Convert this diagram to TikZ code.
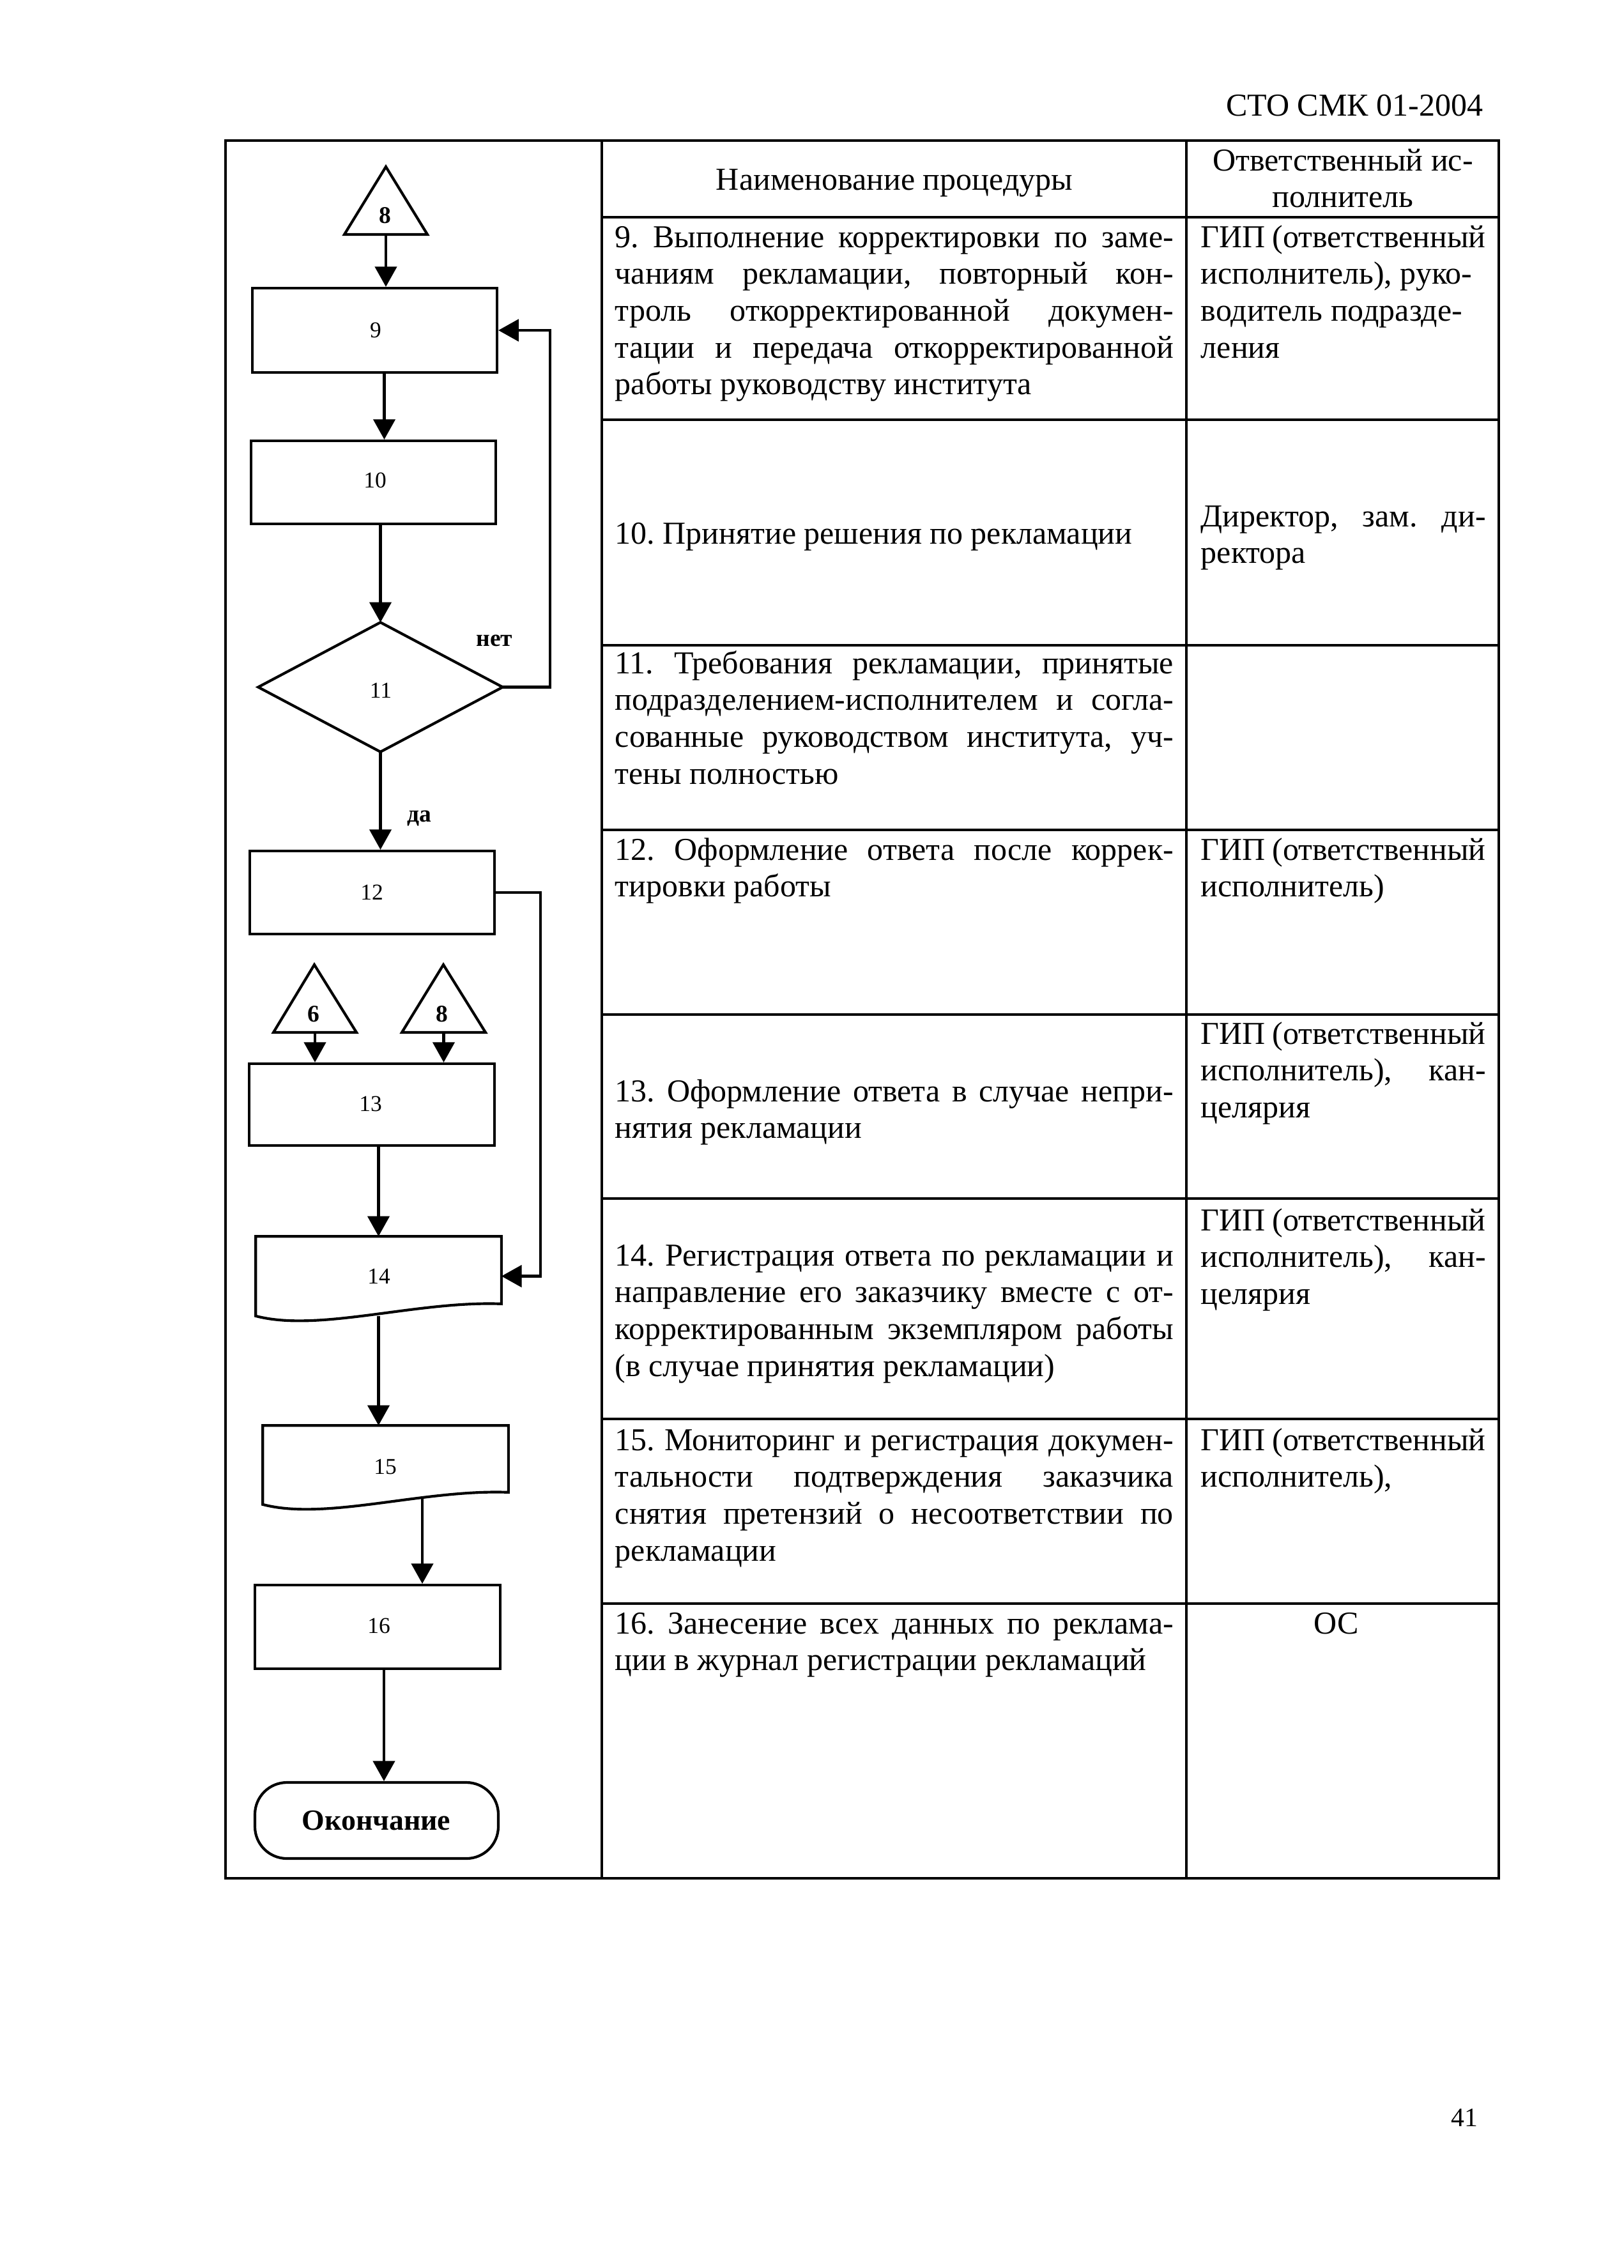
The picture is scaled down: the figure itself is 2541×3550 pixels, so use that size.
\documentclass[tikz,border=0pt]{standalone}
\usepackage{fontspec}
\setmainfont{Liberation Serif}
\usetikzlibrary{arrows.meta,calc,fit}
\frenchspacing
\newcommand\jl[1]{\makebox[\linewidth][s]{#1}}
\newcommand\numf{\fontsize{8.5}{9}\selectfont}
\newcommand\lblf{\fontsize{9}{10}\selectfont\bfseries}
\newcommand\txtf{\fontsize{12}{13.85}\selectfont}
\newcommand\cellL[1]{\parbox[t]{209.8pt}{\txtf #1}}
\newcommand\cellR[1]{\parbox[t]{107pt}{\txtf #1}}
\begin{document}
\begin{tikzpicture}[x=0.24pt,y=-0.24pt,
  tl/.style={line width=0.9pt},
  fl/.style={line width=1pt},
  arr/.style={line width=1pt,-{Triangle[length=7.6pt,width=8.2pt]}},
  fb/.style={draw,line width=1pt,inner sep=0pt},
  hb/.style={inner sep=0pt},
  num/.style={inner sep=0pt,font=\numf},
  tx/.style={inner sep=0pt,anchor=base west},
  lbl/.style={inner sep=0pt,font=\lblf}]

\useasboundingbox (0,0) rectangle (2541,3550);

% page header and number
\node[inner sep=0pt,anchor=base east,font=\txtf] (hdr) at (2322,181) {СТО СМК 01-2004};
\node[inner sep=0pt,anchor=base,font=\fontsize{10}{12}\selectfont] (pg) at (2292,3328) {41};

% table
\draw[tl] (353,220) rectangle (2346,2940);
\draw[tl] (942,220) -- (942,2940) (1857,220) -- (1857,2940);
\foreach \yy in {340,657,1010,1299,1588,1876,2221,2510} \draw[tl] (942,\yy) -- (2346,\yy);

% table headers
\node[inner sep=0pt,anchor=base,font=\txtf] (h2) at (1400,297) {Наименование процедуры};
\node[inner sep=0pt,anchor=base] (h3) at (2102,267) {\parbox[t]{107pt}{\txtf\centering Ответственный ис-\\полнитель}};

% row 9
\node[tx] (c9) at (962,387) {\cellL{\jl{9. Выполнение корректировки по заме-}\\
\jl{чаниям рекламации, повторный кон-}\\
\jl{троль откорректированной докумен-}\\
\jl{тации и передача откорректированной}\\
работы руководству института}};
\node[tx] (r9) at (1879,387) {\cellR{\jl{ГИП (ответственный}\\
исполнитель), руко-\\
водитель подразде-\\
ления}};

% row 10
\node[tx] (c10) at (962,851) {\cellL{10. Принятие решения по рекламации}};
\node[tx] (r10) at (1879,824) {\cellR{\jl{Директор, зам. ди-}\\ректора}};

% row 11
\node[tx] (c11) at (962,1054) {\cellL{\jl{11. Требования рекламации, принятые}\\
\jl{подразделением-исполнителем и согла-}\\
\jl{сованные руководством института, уч-}\\
тены полностью}};

% row 12
\node[tx] (c12) at (962,1346) {\cellL{\jl{12. Оформление ответа после коррек-}\\тировки работы}};
\node[tx] (r12) at (1879,1346) {\cellR{\jl{ГИП (ответственный}\\исполнитель)}};

% row 13
\node[tx] (c13) at (962,1724) {\cellL{\jl{13. Оформление ответа в случае непри-}\\нятия рекламации}};
\node[tx] (r13) at (1879,1634) {\cellR{\jl{ГИП (ответственный}\\\jl{исполнитель), кан-}\\целярия}};

% row 14
\node[tx] (c14) at (962,1981) {\cellL{\jl{14. Регистрация ответа по рекламации и}\\
\jl{направление его заказчику вместе с от-}\\
\jl{корректированным экземпляром работы}\\
(в случае принятия рекламации)}};
\node[tx] (r14) at (1879,1926) {\cellR{\jl{ГИП (ответственный}\\\jl{исполнитель), кан-}\\целярия}};

% row 15
\node[tx] (c15) at (962,2270) {\cellL{\jl{15. Мониторинг и регистрация докумен-}\\
\jl{тальности подтверждения заказчика}\\
\jl{снятия претензий о несоответствии по}\\
рекламации}};
\node[tx] (r15) at (1879,2270) {\cellR{\jl{ГИП (ответственный}\\исполнитель),}};

% row 16
\node[tx] (c16) at (962,2557) {\cellL{\jl{16. Занесение всех данных по реклама-}\\ции в журнал регистрации рекламаций}};
\node[inner sep=0pt,anchor=base,font=\txtf] (r16) at (2092,2557) {ОС};

% ---------- flowchart ----------
% off-page connector 8 (top)
\draw[fl] (604,261) -- (539,367) -- (669,367) -- cycle;
\node[lbl] (n8a) at (603,337) {8};
\coordinate (t8a) at (604,367);

\node[fb, fit={(395,451) (778,583)}] (b9) {};
\node[fb, fit={(393,690) (776,820)}] (b10) {};
\node[hb, fit={(405,975) (786,1176)}] (d11) {};
\draw[fl] (d11.north) -- (d11.east) -- (d11.south) -- (d11.west) -- cycle;
\node[fb, fit={(391,1332) (774,1462)}] (b12) {};

% off-page connectors 6 and 8
\draw[fl] (492,1510) -- (428,1616) -- (558,1616) -- cycle;
\node[lbl] (n6) at (491,1587) {6};
\coordinate (t6) at (493,1616);
\draw[fl] (694,1510) -- (629,1616) -- (760,1616) -- cycle;
\node[lbl] (n8b) at (692,1587) {8};
\coordinate (t8b) at (694.5,1616);

\node[fb, fit={(390,1665) (774,1793)}] (b13) {};

% documents 14 and 15
\node[hb, fit={(401,1936) (784,2059)}] (b14) {};
\draw[fl] (b14.north west) -- (b14.north east) -- ($(b14.south east)+(0,-19)$)
  .. controls ($(b14.south east)+(-134,-24)$) and ($(b14.south west)+(99,26)$) .. (b14.south west) -- cycle;
\node[hb, fit={(412,2232) (795,2354)}] (b15) {};
\draw[fl] (b15.north west) -- (b15.north east) -- ($(b15.south east)+(0,-19)$)
  .. controls ($(b15.south east)+(-134,-24)$) and ($(b15.south west)+(99,26)$) .. (b15.south west) -- cycle;

\node[fb, fit={(399,2481) (783,2612)}] (b16) {};
\node[fb, rounded corners=12pt, fit={(399,2790) (780,2909)}] (end) {};

% block labels
\node[num] (l9) at (588,517) {9};
\node[num] (l10) at (587,752) {10};
\node[num] (l11) at (596,1081) {11};
\node[num] (l12) at (582,1397) {12};
\node[num] (l13) at (580,1728) {13};
\node[num] (l14) at (593,1998) {14};
\node[num] (l15) at (603,2296) {15};
\node[num] (l16) at (593,2545) {16};
\node[inner sep=0pt,font=\fontsize{11}{13}\selectfont\bfseries] (lend) at (589,2850) {Окончание};

% branch labels
\node[lbl] (no) at (774,1003) {нет};
\node[lbl] (yes) at (656,1281) {да};

% connectors
\draw[arr] (t8a) -- (t8a |- b9.north);
\coordinate (o9) at ($(b9.south)+(15,0)$);
\draw[arr] (o9) -- (o9 |- b10.north);
\draw[arr] (d11.north |- b10.south) -- (d11.north);
\draw[arr] (d11.east) -- ++(74,0) |- (b9.east);
\draw[arr] (d11.south) -- (d11.south |- b12.north);
\draw[arr] (b12.east) -- ++(70,0) |- (b14.east);
\draw[arr] (t6) -- (t6 |- b13.north);
\draw[arr] (t8b) -- (t8b |- b13.north);
\draw[arr] (b14.north |- b13.south) -- (b14.north);
\draw[arr] (b14.south) -- (b14.south |- b15.north);
\coordinate (o15) at (661,2342);
\draw[arr] (o15) -- (o15 |- b16.north);
\coordinate (o16) at ($(b16.south)+(10,0)$);
\draw[arr] (o16) -- (o16 |- end.north);
\end{tikzpicture}
\end{document}
